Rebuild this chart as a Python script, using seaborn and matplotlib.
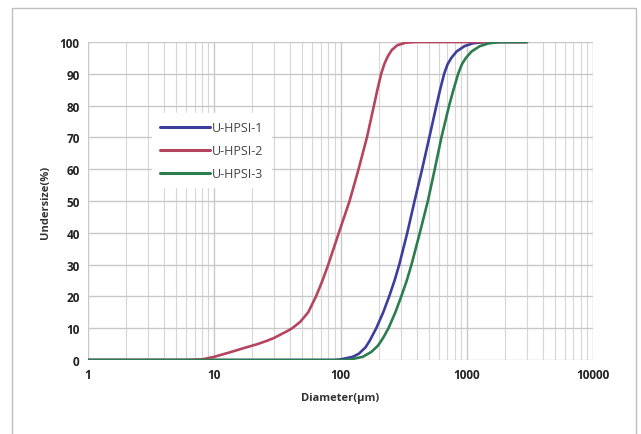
import matplotlib
matplotlib.use("Agg")
import matplotlib.pyplot as plt
import seaborn as sns
import pandas as pd
from matplotlib.ticker import LogLocator, FixedLocator, NullFormatter
from matplotlib.patches import Rectangle

# values
d_hpsi1 = [1, 90, 100, 125, 140, 158, 170, 192, 218, 243, 268, 292, 338, 386, 443, 505,
           575, 615, 662, 705, 755, 830, 960, 1120, 1400, 3000]
u_hpsi1 = [0, 0, 0.2, 1, 2, 4, 6, 10, 15, 20, 25, 30, 40, 50, 60, 70,
           80, 85, 90, 93, 95, 97, 98.7, 99.6, 100, 100]

d_hpsi2 = [1, 6, 8, 10, 13, 17, 22, 26, 30, 33.5, 37.5, 41.5, 48, 55.5, 64, 72, 80, 97, 118,
           139, 162, 184, 196, 210, 222, 237, 255, 282, 330, 398, 3000]
u_hpsi2 = [0, 0, 0.2, 1, 2.3, 3.7, 5, 6, 7, 8, 9, 10, 12, 15, 20, 25, 30, 40, 50,
           60, 70, 80, 85, 90, 93, 95.5, 97.5, 99, 99.8, 100, 100]

d_hpsi3 = [1, 110, 120, 150, 175, 198, 218, 240, 272, 303, 335, 365, 425, 492, 558, 630,
           725, 785, 855, 915, 985, 1090, 1270, 1500, 1850, 3000]
u_hpsi3 = [0, 0, 0.2, 1, 2.5, 4.5, 7, 10, 15, 20, 25, 30, 40, 50, 60, 70,
           80, 85, 90, 93, 95, 97, 98.7, 99.6, 100, 100]

series_names = ["U-HPSI-1", "U-HPSI-2", "U-HPSI-3"]
colors = {"U-HPSI-1": "#3d3d9e", "U-HPSI-2": "#b5455f", "U-HPSI-3": "#2b7d4f"}

frames = []
for name, d, u in zip(series_names, [d_hpsi1, d_hpsi2, d_hpsi3], [u_hpsi1, u_hpsi2, u_hpsi3]):
    frames.append(pd.DataFrame({"diameter": d, "undersize": u, "sample": name}))
df = pd.concat(frames, ignore_index=True)

sns.set_style("white")
plt.rcParams["font.family"] = ["Open Sans", "DejaVu Sans"]

fig = plt.figure(figsize=(6.41, 4.35), dpi=100)
ax = fig.add_axes([88 / 641, 1 - 361 / 435, 505 / 641, 318 / 435])

sns.lineplot(
    data=df,
    x="diameter",
    y="undersize",
    hue="sample",
    palette=colors,
    sort=False,
    estimator=None,
    linewidth=1.9,
    ax=ax,
    zorder=3,
)

ax.set_xscale("log")
ax.set_xlim(1, 10000)
ax.set_ylim(0, 100)
ax.xaxis.set_major_locator(FixedLocator([1, 10, 100, 1000, 10000]))
ax.xaxis.set_minor_locator(LogLocator(base=10, subs=range(2, 10)))
ax.xaxis.set_minor_formatter(NullFormatter())
ax.set_xticklabels(["1", "10", "100", "1000", "10000"])
ax.set_yticks(range(0, 101, 10))

ax.grid(True, which="major", axis="both", color="#c8c8c8", linewidth=1)
ax.grid(True, which="minor", axis="x", color="#d6d6d6", linewidth=0.8)
for s in ax.spines.values():
    s.set_visible(False)
ax.tick_params(axis="both", which="both", length=0, labelsize=8.5, pad=6, labelcolor="#222222")
for lbl in ax.get_xticklabels() + ax.get_yticklabels():
    lbl.set_fontweight("bold")

ax.set_xlabel("Diameter(μm)", fontsize=8, fontweight="bold", color="#333333", labelpad=8)
ax.set_ylabel("Undersize(%)", fontsize=8, fontweight="bold", color="#333333", labelpad=6)

leg = ax.legend(
    loc="upper left",
    bbox_to_anchor=(0.115, 0.795),
    frameon=True,
    facecolor="white",
    edgecolor="white",
    framealpha=1,
    fancybox=False,
    fontsize=9,
    handlelength=4.0,
    handletextpad=0.2,
    labelspacing=0.8,
    borderpad=0.6,
    title=None,
)
for t in leg.get_texts():
    t.set_color("#444444")
for h in leg.get_lines():
    h.set_linewidth(2.2)

# outer chart border
fig.patches.append(Rectangle((12 / 641, -0.02), 624 / 641, 1.0 - 9 / 435 + 0.02,
                             transform=fig.transFigure, fill=False,
                             edgecolor="#bfbfbf", linewidth=1))

fig.savefig("out.png", dpi=100)
